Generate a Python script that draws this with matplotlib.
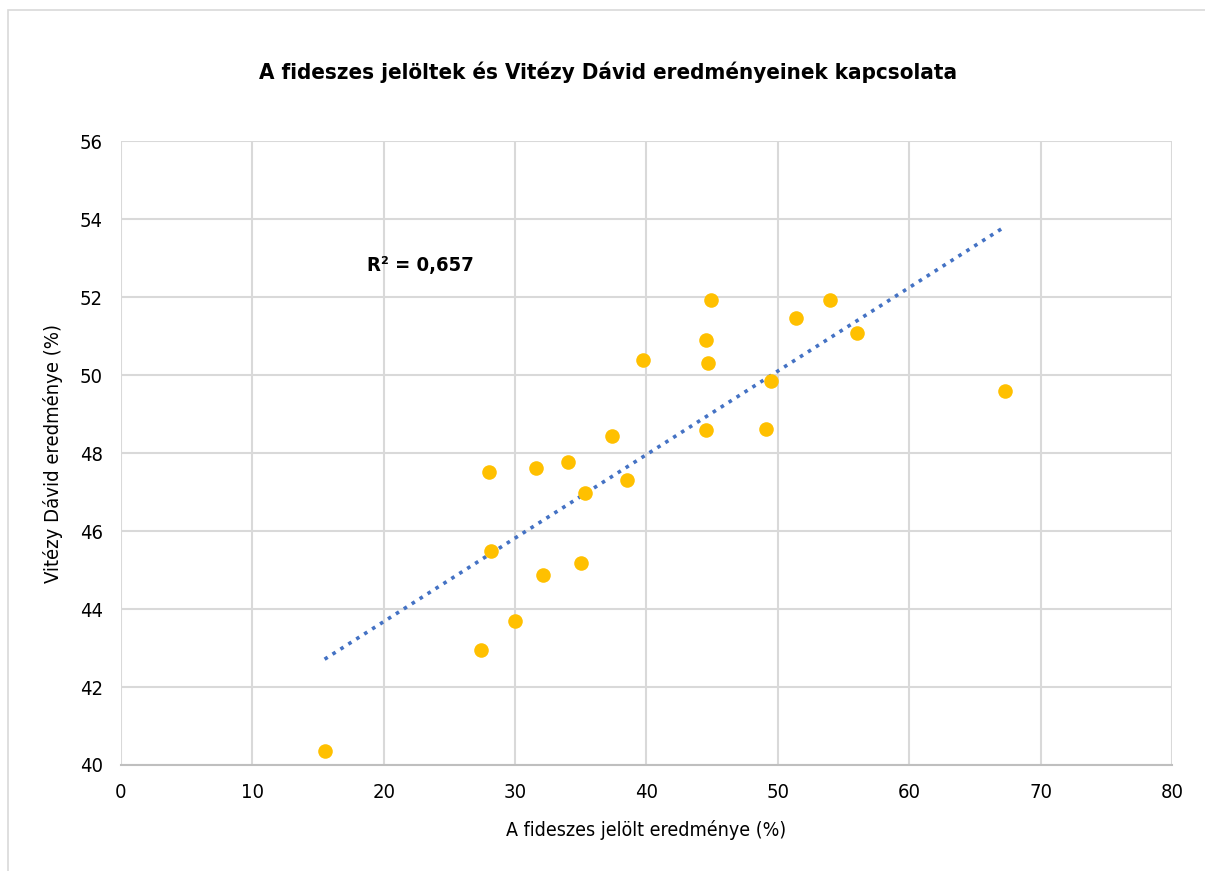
import matplotlib
matplotlib.use('Agg')
import matplotlib.pyplot as plt
from matplotlib.patches import Rectangle
import numpy as np

# Fidesz candidate result (%) vs Vitézy Dávid result (%)
fidesz = [15.5, 27.4, 30.0, 32.1, 35.0, 28.2, 35.3, 38.5, 28.0, 31.6, 34.0, 37.4,
          44.5, 49.1, 39.7, 44.7, 44.5, 44.9, 49.5, 51.4, 54.0, 56.0, 67.3]
vitezy = [40.36, 42.95, 43.69, 44.87, 45.18, 45.49, 46.97, 47.31, 47.51, 47.62, 47.77, 48.44,
          48.59, 48.62, 50.38, 50.31, 50.90, 51.92, 49.85, 51.46, 51.92, 51.08, 49.59]

x_ticks = list(range(0, 81, 10))
y_ticks = list(range(40, 57, 2))

plt.rcParams['font.family'] = ['DejaVu Sans']
plt.rcParams['font.stretch'] = 'condensed'

fig = plt.figure(figsize=(12.05, 8.71), dpi=100)
ax = fig.add_axes([0.1004, 0.1217, 0.8722, 0.7164])

# outer chart border
fig.patches.append(Rectangle((8 / 1205, -0.01), 1.0, 1 - 10 / 871 + 0.01,
                             transform=fig.transFigure, fill=False,
                             edgecolor='#d9d9d9', linewidth=1.2))

ax.scatter(fidesz, vitezy, s=110, color='#ffc000', zorder=3, linewidths=0)

# linear trendline
coef = np.polyfit(fidesz, vitezy, 1)
xs = np.array([min(fidesz), max(fidesz)])
ax.plot(xs, np.polyval(coef, xs), color='#4472c4', linestyle=(0, (1, 1.6)),
        linewidth=2.6, zorder=2)

ax.text(18.7, 52.82, 'R² = 0,657', fontsize=14.5, fontweight='bold', va='center')

ax.set_xlim(0, 80)
ax.set_ylim(40, 56)
ax.set_xticks(x_ticks)
ax.set_yticks(y_ticks)
ax.grid(True, color='#d9d9d9', linewidth=1.5)
ax.set_axisbelow(True)
for side in ['top', 'right', 'left']:
    ax.spines[side].set_visible(False)
ax.spines['bottom'].set_color('#bfbfbf')
ax.spines['bottom'].set_linewidth(1.5)
ax.tick_params(length=0, labelsize=14.5, labelcolor='black', pad=13)

ax.set_xlabel('A fideszes jelölt eredménye (%)', fontsize=14, labelpad=13)
ax.set_ylabel('Vitézy Dávid eredménye (%)', fontsize=14.5, labelpad=12)
fig.text(0.505, 0.917, 'A fideszes jelöltek és Vitézy Dávid eredményeinek kapcsolata',
         ha='center', va='center', fontsize=16, fontweight='bold')

fig.savefig('out.png', dpi=100)
